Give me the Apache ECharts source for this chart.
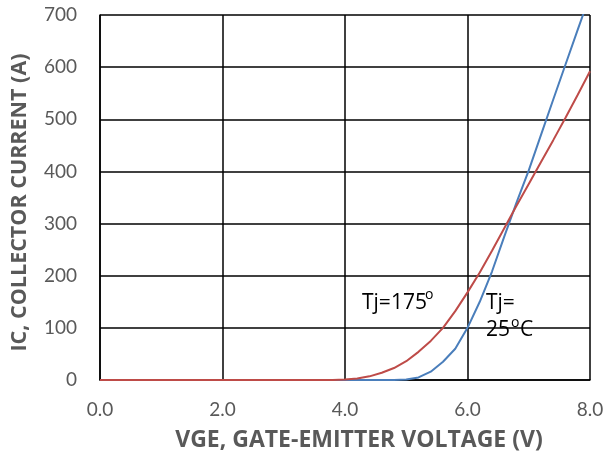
<!DOCTYPE html>
<html>
<head>
<meta charset="utf-8">
<script src="https://cdn.jsdelivr.net/npm/echarts@6/dist/echarts.min.js"></script>
<style>
  html, body { margin: 0; padding: 0; background: #fff; }
  #main { width: 607px; height: 457px; }
</style>
</head>
<body>
<div id="main"></div>
<script>
// gate-emitter voltage (V)
const vge = [0, 1, 2, 3, 3.6, 3.8, 4.0, 4.2, 4.4, 4.6, 4.8, 5.0, 5.2, 5.4, 5.6, 5.8,
  6.0, 6.2, 6.4, 6.6, 6.8, 7.0, 7.2, 7.4, 7.6, 7.8, 8.0]
// collector current (A), Tj = 25 C
const ic25 = [0, 0, 0, 0, 0, 0, 0, 0, 0, 0, 0, 1, 5, 16, 35, 60,
  100, 150, 208, 275, 340, 402, 470, 538, 605, 672, 738]
// collector current (A), Tj = 175
const ic175 = [0, 0, 0, 0, 0, 0, 1, 3, 7, 14, 23, 36, 54, 75, 100, 132,
  168, 206, 248, 291, 334, 376, 418, 460, 503, 547, 592]

const xTicks = [0, 2, 4, 6, 8]
const yTicks = [0, 100, 200, 300, 400, 500, 600, 700]

const font = 'Lato, "Open Sans", sans-serif'
const titleFont = '"Open Sans", Lato, sans-serif'
const gray = '#595959'

const myChart = echarts.init(document.getElementById('main'))

const gridLine = {show: true, lineStyle: {color: '#000', width: 1.5}}

// small annotation text helper
function note(text, left, top, size) {
  return {
    type: 'text', left: left, top: top,
    style: {text: text, font: size + 'px ' + titleFont, fill: '#000'}
  }
}

const option = {
  animation: false,
  grid: {left: 100, top: 15, width: 490, height: 365, show: false},
  xAxis: {
    type: 'value',
    min: xTicks[0],
    max: xTicks[xTicks.length - 1],
    interval: 2,
    name: 'VGE, GATE-EMITTER VOLTAGE (V)',
    nameLocation: 'middle',
    nameGap: 49,
    nameTextStyle: {fontFamily: titleFont, fontSize: 23, fontWeight: 'bold', color: gray, padding: [0, 0, 0, 28]},
    axisLine: {show: true, lineStyle: {color: '#000', width: 1.5}},
    axisTick: {show: false},
    axisLabel: {fontFamily: font, fontSize: 19, color: gray, margin: 20,
      formatter: v => v.toFixed(1)},
    splitLine: gridLine
  },
  yAxis: {
    type: 'value',
    min: yTicks[0],
    max: yTicks[yTicks.length - 1],
    interval: 100,
    name: 'IC, COLLECTOR CURRENT (A)',
    nameLocation: 'middle',
    nameGap: 69,
    nameTextStyle: {fontFamily: titleFont, fontSize: 21.5, fontWeight: 'bold', color: gray, padding: [0, 10, 0, 0]},
    axisLine: {show: true, lineStyle: {color: '#000', width: 1.5}},
    axisTick: {show: false},
    axisLabel: {fontFamily: font, fontSize: 19, color: gray, margin: 23},
    splitLine: gridLine
  },
  graphic: [
    note('Tj=175', 362, 293, 21),
    note('o', 425, 288, 14),
    note('Tj=', 486, 293, 21),
    note('25', 486, 320, 21),
    note('o', 511, 316, 14),
    note('C', 520, 320, 21)
  ],
  series: [
    {
      name: 'Tj=25',
      type: 'line',
      data: vge.map((v, i) => [v, ic25[i]]),
      showSymbol: false,
      clip: true,
      lineStyle: {color: '#4a7ebb', width: 2}
    },
    {
      name: 'Tj=175',
      type: 'line',
      data: vge.map((v, i) => [v, ic175[i]]),
      showSymbol: false,
      clip: true,
      lineStyle: {color: '#be4b48', width: 2}
    }
  ]
}

myChart.setOption(option)
</script>
</body>
</html>
